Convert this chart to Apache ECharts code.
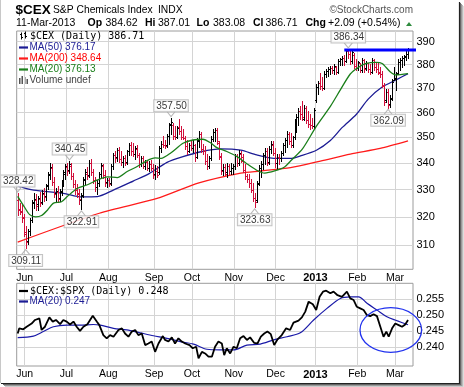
<!DOCTYPE html>
<html><head><meta charset="utf-8">
<script src="https://cdn.jsdelivr.net/npm/echarts@6/dist/echarts.min.js"></script>
<style>html,body{margin:0;padding:0;background:#fff}#c{width:464px;height:387px}</style>
</head><body><div id="c"></div>
<script>
// ---- tick labels ----
const monthGridIdx = [4,25,46,69,88,109,130,150,171,190];
const monthLabels = ['Jun','Jul','Aug','Sep','Oct','Nov','Dec','2013','Feb','Mar'];
const priceTicks = [310,320,330,340,350,360,370,380,390];
const ratioTicks = [0.240,0.245,0.250,0.255];

// ---- daily OHLC, 25-May-2012 .. 11-Mar-2013 ----
const opens = [326.0,322.8,322.0,319.8,314.0,311.5,315.0,319.0,325.5,326.0,324.5,326.5,325.5,328.5,327.5,331.8,335.5,338.0,333.0,328.8,
329.0,326.8,329.5,333.0,336.5,338.5,337.5,339.0,335.0,332.0,330.5,328.8,326.0,328.0,333.5,336.0,335.5,340.0,336.5,333.5,
331.0,332.5,336.0,339.0,335.5,332.8,333.5,332.5,339.0,343.0,342.2,345.0,341.5,340.5,342.0,340.5,344.5,347.0,344.5,343.5,
345.5,343.0,339.5,342.0,339.0,340.5,338.0,339.8,338.0,336.0,337.0,336.5,345.8,347.5,347.0,347.0,350.5,355.5,355.0,350.5,
350.2,354.0,352.5,350.0,349.8,346.5,344.8,347.0,346.0,347.0,342.5,349.0,351.5,345.5,344.5,341.0,339.0,342.0,349.5,352.0,
353.0,348.0,342.5,337.5,338.5,336.5,339.0,337.0,338.0,339.0,342.8,340.0,343.5,341.0,337.5,335.0,334.0,332.5,330.0,327.0,
326.0,332.5,338.0,339.5,343.0,344.5,340.5,345.5,347.0,344.0,340.0,342.5,342.0,344.0,347.0,349.0,351.5,348.5,347.0,350.0,
355.5,358.0,360.5,359.5,357.5,362.0,357.0,355.5,355.0,354.5,365.0,370.5,372.0,371.0,370.0,376.0,377.2,378.0,378.5,377.5,
379.0,377.0,381.5,382.3,383.0,381.5,385.8,384.5,381.5,384.0,379.5,378.5,380.5,377.5,382.0,378.5,380.5,378.0,377.0,382.0,
379.0,378.0,377.0,376.0,371.0,365.0,368.5,363.5,366.0,373.5,374.0,376.5,381.0,382.0,383.0,383.5,384.62];
const highs = [328.42,325.0,324.5,321.0,316.5,315.5,319.5,326.0,328.5,328.0,327.5,329.0,329.5,330.5,332.0,336.5,340.0,339.5,334.5,330.5,
331.0,330.0,333.5,337.0,339.5,340.0,340.45,339.8,336.0,333.5,332.0,330.0,328.5,334.5,337.4,338.5,341.2,341.5,337.5,334.5,
333.5,336.5,340.0,339.5,337.0,334.0,334.3,339.5,343.8,344.5,345.8,346.0,344.5,342.5,343.0,345.0,347.7,348.0,347.7,346.4,
346.8,343.8,342.5,342.5,341.0,341.2,340.5,341.0,339.5,339.0,338.7,346.4,348.3,350.4,349.0,351.0,355.6,357.5,355.6,354.3,
354.5,357.0,354.3,353.0,350.4,349.0,347.7,349.0,349.0,347.1,349.7,352.3,352.0,347.1,346.4,343.2,342.5,350.4,353.0,353.6,
353.5,348.4,343.8,339.5,339.3,340.0,339.3,340.0,339.5,343.2,343.5,344.9,344.5,343.2,339.3,335.6,335.6,333.6,332.4,328.6,
333.0,339.0,340.6,343.8,345.8,345.5,346.4,348.4,348.4,345.8,343.2,343.5,344.5,347.7,349.7,352.3,352.0,351.5,350.5,357.0,
359.0,361.7,362.3,364.3,363.0,362.3,360.5,359.0,357.5,361.7,371.4,372.8,376.3,374.5,377.0,377.7,378.6,379.3,379.3,379.9,
379.3,382.0,382.7,383.4,384.1,386.0,386.34,386.0,386.2,385.0,382.0,381.5,380.6,382.7,382.0,381.3,380.6,379.9,382.7,382.0,
380.6,380.6,378.6,377.0,372.1,369.3,369.3,367.0,373.5,378.6,376.5,382.0,382.7,383.4,383.8,385.7,387.01];
const lows = [320.8,321.2,318.5,313.5,309.11,310.5,313.8,318.5,323.5,322.5,322.8,324.0,324.8,326.0,326.5,330.5,334.0,332.0,327.5,326.0,
325.5,325.8,328.0,331.5,334.0,335.5,336.5,334.0,331.0,328.6,327.5,325.0,322.91,327.5,332.4,334.0,335.0,335.5,332.5,329.8,
328.6,331.5,334.5,334.5,331.5,331.0,331.5,332.0,338.0,340.6,341.0,340.5,339.5,338.7,339.5,340.0,343.5,343.5,343.0,341.9,
342.5,338.7,339.0,338.5,338.0,337.5,337.0,337.5,334.5,334.3,335.0,336.0,344.5,346.4,346.0,346.4,347.7,351.7,349.4,349.7,
350.0,351.7,349.4,349.5,345.8,343.8,344.5,345.1,344.5,341.2,342.0,346.4,344.5,343.8,340.0,338.1,338.5,341.5,349.0,349.0,
347.5,341.9,336.2,335.6,335.6,334.9,336.2,336.2,336.0,338.1,339.0,339.5,340.5,336.8,334.3,333.0,331.1,329.2,326.1,323.63,
325.5,332.0,335.0,338.1,340.0,339.3,340.0,344.0,343.2,338.7,338.1,340.0,341.2,343.5,344.5,346.4,347.5,346.5,346.5,349.5,
352.5,355.0,357.5,357.0,357.0,356.0,354.3,353.5,353.8,354.0,364.5,367.9,370.0,369.5,369.8,374.9,375.5,376.3,376.8,376.3,
376.3,376.5,379.9,380.0,379.9,381.5,383.0,380.6,381.0,378.6,377.7,377.7,377.0,377.2,377.0,377.7,377.0,376.3,376.8,378.0,
377.0,376.0,374.9,370.7,363.1,364.4,362.09,362.5,365.5,373.5,369.3,376.0,377.7,379.3,380.0,382.0,383.08];
const closes = [322.5,321.8,319.5,314.5,311.0,314.8,318.8,325.2,326.5,323.8,326.8,325.0,328.8,327.2,331.5,335.8,338.5,333.0,328.5,329.6,
326.5,329.2,332.8,336.0,338.8,337.0,339.6,335.0,332.0,330.0,328.5,326.5,327.8,333.8,336.5,335.0,340.2,336.5,333.5,330.8,
332.6,335.8,339.2,335.5,332.5,333.5,332.0,338.8,343.0,342.0,345.0,341.5,340.5,342.0,340.2,344.5,347.0,344.5,343.5,345.8,
343.0,339.5,342.0,339.0,340.5,338.0,339.8,338.2,335.5,337.0,335.6,345.8,347.5,347.0,346.6,350.5,355.0,356.2,350.5,350.0,
353.8,352.5,350.0,349.8,346.5,344.5,347.0,345.8,347.2,342.5,348.8,351.5,345.5,344.5,341.0,339.0,342.0,349.5,352.0,353.0,
348.5,342.8,337.0,338.5,336.0,339.0,337.0,338.0,338.8,342.8,340.0,344.0,342.5,337.5,335.0,334.0,332.5,330.0,327.0,325.5,
332.2,338.0,339.5,343.0,344.8,340.2,345.5,347.5,344.0,340.0,342.5,342.0,344.0,347.0,349.0,351.5,348.5,347.0,350.0,356.0,
358.0,360.8,359.5,358.0,362.0,356.8,355.5,355.0,354.5,361.2,370.5,372.0,371.0,370.0,376.0,377.2,378.0,378.5,377.5,379.2,
377.0,381.5,382.3,383.0,381.5,385.8,384.5,381.5,385.5,379.5,378.5,381.0,377.5,382.0,378.0,380.5,378.0,377.0,382.0,379.0,
378.2,376.5,376.0,371.5,364.5,368.5,363.0,365.5,372.5,374.5,376.0,381.0,382.0,383.0,383.3,384.62,386.71];

// ---- moving averages: [day index, value] ----
const ma200Pts = [[0,311.0],[41,321.3],[70,326.7],[91,332.5],[112,336.2],[122,337.0],[137,338.3],[152,340.8],[167,343.5],[182,345.7],[196,348.64]];
const ma50Pts = [[0,331.3],[8,329.8],[23,328.6],[32,327.3],[40,327.4],[48,329.8],[58,333.2],[66,336.0],[75,340.3],[83,342.5],[92,344.4],[102,345.5],[112,345.0],[120,343.2],[130,341.8],[137,341.8],[142,342.8],[150,345.0],[157,348.8],[163,354.0],[170,359.2],[176,365.5],[183,370.5],[190,373.5],[196,376.17]];
const ma20Pts = [[0,327.5],[3,324.0],[6,320.8],[9,320.0],[12,320.5],[15,322.5],[18,325.0],[22,325.5],[25,327.5],[30,330.5],[35,331.8],[40,333.6],[45,334.8],[50,334.5],[55,336.8],[60,338.7],[65,341.0],[69,342.0],[72,341.8],[77,344.0],[83,347.7],[88,349.0],[93,349.3],[97,347.8],[100,346.0],[105,344.5],[110,342.6],[115,339.8],[120,337.3],[124,336.2],[129,337.0],[134,338.5],[137,340.8],[143,345.5],[150,354.5],[157,362.5],[162,369.3],[167,376.0],[171,378.8],[175,380.5],[180,381.0],[183,380.5],[187,377.0],[190,375.6],[196,376.13]];
const resistPts = [[164,386.34],[207,386.34]];
const highMarks = [[0,328.42],[26,340.45],[77,357.50],[166,386.34]];
const lowMarks = [[4,309.11],[32,322.91],[119,323.63],[186,362.09]];

// ---- $CEX:$SPX ratio and its MA(20) ----
const ratioPts = [[0,0.2443],[0.8,0.2459],[2.8,0.2456],[4.5,0.2464],[7.0,0.2474],[8.7,0.2485],[10.9,0.2490],[12.0,0.2454],[13.7,0.2464],[15.9,0.2493],[17.6,0.2480],[19.2,0.2485],[21.3,0.2472],[22.9,0.2485],[24.6,0.2480],[26.3,0.2471],[28.0,0.2480],[29.6,0.2464],[31.3,0.2451],[33.0,0.2464],[35.0,0.2472],[37.7,0.2498],[39.7,0.2480],[41.0,0.2469],[43.0,0.2438],[44.7,0.2428],[46.4,0.2438],[48.1,0.2433],[50.6,0.2454],[52.3,0.2459],[53.9,0.2443],[55.6,0.2433],[57.3,0.2449],[59.0,0.2454],[60.6,0.2438],[62.3,0.2443],[64.0,0.2407],[65.6,0.2412],[67.3,0.2418],[69.0,0.2386],[70.7,0.2412],[72.9,0.2435],[74.0,0.2423],[75.7,0.2418],[77.4,0.2431],[79.0,0.2412],[80.7,0.2428],[82.4,0.2418],[84.1,0.2412],[86.3,0.2407],[87.9,0.2397],[89.6,0.2402],[90.8,0.2366],[92.5,0.2386],[94.1,0.2381],[95.8,0.2371],[97.5,0.2371],[99.1,0.2402],[100.8,0.2418],[102.5,0.2412],[103.7,0.2376],[105.0,0.2397],[106.7,0.2381],[108.4,0.2402],[110.0,0.2397],[111.7,0.2428],[113.4,0.2435],[115.1,0.2423],[116.7,0.2431],[118.7,0.2414],[120.4,0.2412],[122.1,0.2433],[123.8,0.2443],[125.4,0.2449],[127.1,0.2441],[128.8,0.2407],[130.5,0.2425],[132.6,0.2438],[134.8,0.2459],[136.8,0.2454],[138.5,0.2477],[141.0,0.2483],[142.7,0.2493],[144.4,0.2511],[146.1,0.2542],[148.2,0.2534],[149.9,0.2516],[151.6,0.2557],[153.3,0.2573],[154.9,0.2576],[157.0,0.2568],[158.6,0.2573],[160.6,0.2562],[162.8,0.2557],[165.3,0.2573],[167.0,0.2552],[168.7,0.2547],[170.3,0.2526],[172.0,0.2521],[173.7,0.2516],[175.4,0.2500],[177.0,0.2497],[178.7,0.2503],[180.4,0.2497],[182.1,0.2464],[183.7,0.2433],[185.1,0.2449],[186.3,0.2433],[188.0,0.2459],[189.6,0.2474],[191.3,0.2469],[193.0,0.2464],[194.6,0.2471],[196,0.2485]];
const ratioMAPts = [[0,0.2430],[7.9,0.2435],[12.9,0.2449],[17.9,0.2464],[24.6,0.2469],[31.3,0.2469],[38.0,0.2471],[41.4,0.2469],[48.1,0.2459],[54.8,0.2454],[61.5,0.2445],[68.2,0.2436],[74.9,0.2428],[81.6,0.2418],[88.3,0.2410],[95.0,0.2394],[101.7,0.2392],[108.4,0.2392],[115.1,0.2407],[121.8,0.2410],[128.5,0.2423],[135.2,0.2433],[141.9,0.2445],[148.6,0.2485],[155.3,0.2521],[162.0,0.2552],[167.0,0.2557],[171.2,0.2557],[175.4,0.2537],[180.4,0.2516],[185.4,0.2495],[190.4,0.2483],[196,0.2470]];

// ---------------------------------------------------------------
const UP = '#000000', DOWN = '#d10f3b';
const NAVY = '#1c1c94', RED = '#ff1a1a', GREEN = '#1a7f1a';
const FONT = '"Liberation Sans", Arial, sans-serif';
const MONO = '"DejaVu Sans Mono", "Liberation Mono", monospace';

const ohlcData = closes.map((c, i) => [i, opens[i], highs[i], lows[i], c,
  (i === 0 ? c >= opens[i] : c >= closes[i - 1]) ? 1 : 0]);

function renderOHLC(params, api) {
  const i = api.value(0);
  const pO = api.coord([i, api.value(1)]);
  const pH = api.coord([i, api.value(2)]);
  const pL = api.coord([i, api.value(3)]);
  const pC = api.coord([i, api.value(4)]);
  const color = api.value(5) ? UP : DOWN;
  const x = Math.round(pH[0]) + 0.5;
  const yo = Math.round(pO[1]) + 0.5, yc = Math.round(pC[1]) + 0.5;
  const st = { stroke: color, lineWidth: 1 };
  return { type: 'group', children: [
    { type: 'line', shape: { x1: x, y1: Math.floor(pH[1]), x2: x, y2: Math.ceil(pL[1]) + 1 }, style: st },
    { type: 'line', shape: { x1: x - 1.5, y1: yo, x2: x - 0.5, y2: yo }, style: st },
    { type: 'line', shape: { x1: x + 0.5, y1: yc, x2: x + 1.5, y2: yc }, style: st }
  ]};
}

const gridLine = { show: true, lineStyle: { color: '#d4d4d4', width: 1 } };
const monthCustom = monthGridIdx.map(i => i - 0.5);
function monthFmt(v) {
  const k = monthGridIdx.indexOf(Math.round(v + 0.5));
  const t = k >= 0 ? monthLabels[k] : '';
  return t === '2013' ? '{b|2013}' : t;
}
function xAxisCfg(gi) {
  return {
    type: 'value', gridIndex: gi, min: -0.5, max: 198.5,
    axisLine: { show: false },
    axisTick: { show: false, customValues: monthCustom },
    splitLine: gridLine,
    axisLabel: { customValues: monthCustom, formatter: monthFmt, color: '#000', fontSize: 10.5,
      fontFamily: FONT, margin: 3,
      rich: { b: { fontWeight: 'bold', fontSize: 11, fontFamily: FONT, color: '#000' } } }
  };
}

const labelStyle = { show: true, distance: 0, color: '#000', fontSize: 10, fontFamily: FONT,
  backgroundColor: '#fff', borderColor: '#b4b4b4', borderWidth: 1, padding: [1, 1, 0, 2], lineHeight: 10,
  formatter: p => p.value[1].toFixed(2) };

function txt(x, y, text, opt) {
  opt = opt || {};
  return { type: 'text', x: x, y: y, z: 50, silent: true,
    style: { text: text, fill: opt.fill || '#000', font: opt.font || ('10px ' + FONT),
      align: opt.align || 'left', verticalAlign: 'middle', rich: opt.rich } };
}
function dash(y, color) {
  return { type: 'line', z: 50, silent: true, shape: { x1: 19, y1: y, x2: 28, y2: y }, style: { stroke: color, lineWidth: 2.2 } };
}
function seg(x1, y1, x2, y2, color, w) {
  return { type: 'line', z: 60, silent: true, shape: { x1, y1, x2, y2 }, style: { stroke: color, lineWidth: w || 1 } };
}

const chart = echarts.init(document.getElementById('c'), null, { renderer: 'canvas', width: 464, height: 387 });
chart.setOption({
  animation: false,
  backgroundColor: '#fff',
  grid: [
    { left: 16.7, top: 31, width: 396.3, height: 238.3, show: true, borderColor: '#9c9c9c', borderWidth: 1, outerBoundsMode: 'none', containLabel: false },
    { left: 16.7, top: 283.3, width: 396.3, height: 82.7, show: true, borderColor: '#9c9c9c', borderWidth: 1, outerBoundsMode: 'none', containLabel: false }
  ],
  xAxis: [xAxisCfg(0), xAxisCfg(1)],
  yAxis: [
    { type: 'log', logBase: 10, gridIndex: 0, position: 'right', min: 301.6, max: 394.7,
      axisLine: { show: false }, axisTick: { show: false, customValues: priceTicks }, splitLine: gridLine,
      axisLabel: { customValues: priceTicks, color: '#000', fontSize: 11, fontFamily: FONT, margin: 3.5 } },
    { type: 'value', gridIndex: 1, position: 'right', min: 0.2342, max: 0.2599,
      axisLine: { show: false }, axisTick: { show: false, customValues: ratioTicks }, splitLine: gridLine,
      axisLabel: { customValues: ratioTicks, color: '#000', fontSize: 11, fontFamily: FONT, margin: 3.5,
        formatter: v => v.toFixed(3) } }
  ],
  series: [
    { type: 'line', xAxisIndex: 0, yAxisIndex: 0, data: ma200Pts, smooth: 0.25, symbol: 'none',
      lineStyle: { color: RED, width: 1.3 }, z: 3, silent: true },
    { type: 'line', xAxisIndex: 0, yAxisIndex: 0, data: ma50Pts, smooth: 0.25, symbol: 'none',
      lineStyle: { color: NAVY, width: 1.3 }, z: 3, silent: true },
    { type: 'custom', xAxisIndex: 0, yAxisIndex: 0, data: ohlcData, renderItem: renderOHLC,
      encode: { x: 0, y: [1, 2, 3, 4] }, z: 4, silent: true },
    { type: 'line', xAxisIndex: 0, yAxisIndex: 0, data: ma20Pts, smooth: 0.25, symbol: 'none',
      lineStyle: { color: GREEN, width: 1.3 }, z: 5, silent: true },
    { type: 'line', xAxisIndex: 0, yAxisIndex: 0, data: resistPts, symbol: 'none', clip: false,
      lineStyle: { color: '#0000ff', width: 3 }, z: 6, silent: true },
    { type: 'scatter', xAxisIndex: 0, yAxisIndex: 0, data: highMarks, symbol: 'path://M0,0L4,5L8,0',
      symbolSize: [8, 5], symbolOffset: [0, -4.5], clip: false,
      itemStyle: { color: 'rgba(0,0,0,0)', borderColor: '#a8a8a8', borderWidth: 1 },
      label: Object.assign({ position: 'top' }, labelStyle), z: 8, silent: true },
    { type: 'scatter', xAxisIndex: 0, yAxisIndex: 0, data: lowMarks, symbol: 'path://M0,5L4,0L8,5',
      symbolSize: [8, 5], symbolOffset: [0, 4.5], clip: false,
      itemStyle: { color: 'rgba(0,0,0,0)', borderColor: '#a8a8a8', borderWidth: 1 },
      label: Object.assign({ position: 'bottom' }, labelStyle), z: 8, silent: true },
    { type: 'line', xAxisIndex: 1, yAxisIndex: 1, data: ratioMAPts, smooth: 0.3, symbol: 'none',
      lineStyle: { color: '#1a1aa8', width: 1.2 }, z: 3, silent: true },
    { type: 'line', xAxisIndex: 1, yAxisIndex: 1, data: ratioPts, symbol: 'none',
      lineStyle: { color: '#000', width: 1.8 }, z: 4, silent: true }
  ],
  graphic: [
    // header
    txt(15.5, 10, '$CEX', { font: 'bold 13.5px ' + FONT }),
    txt(53, 10.5, 'S&P Chemicals Index', { font: '10.3px ' + FONT }),
    txt(158, 10.5, 'INDX', { font: '10.3px ' + FONT }),
    txt(413, 10.5, '\u00a9StockCharts.com', { font: '10px ' + FONT, fill: '#555', align: 'right' }),
    txt(16, 23.5, '11-Mar-2013', { font: '10.5px ' + FONT }),
    txt(87.5, 23.5, 'Op', { font: 'bold 10.5px ' + FONT }),
    txt(105.5, 23.5, '384.62', { font: '10.5px ' + FONT }),
    txt(145, 23.5, 'Hi', { font: 'bold 10.5px ' + FONT }),
    txt(158, 23.5, '387.01', { font: '10.5px ' + FONT }),
    txt(196.5, 23.5, 'Lo', { font: 'bold 10.5px ' + FONT }),
    txt(213, 23.5, '383.08', { font: '10.5px ' + FONT }),
    txt(253, 23.5, 'Cl', { font: 'bold 10.5px ' + FONT }),
    txt(265.5, 23.5, '386.71', { font: '10.5px ' + FONT }),
    txt(305.5, 23.5, 'Chg', { font: 'bold 10.5px ' + FONT }),
    txt(328, 23.5, '+2.09 (+0.54%)', { font: '10.5px ' + FONT }),
    { type: 'polygon', z: 50, silent: true, shape: { points: [[406, 26], [412, 26], [409, 22]] }, style: { fill: '#2e8b3e' } },
    // top legend
    seg(21.5, 32.5, 21.5, 39.5, '#000', 1), seg(20, 34.5, 21.5, 34.5, '#000', 1), seg(21.5, 37.5, 23, 37.5, '#000', 1),
    seg(25.5, 31.5, 25.5, 38.5, '#000', 1), seg(24, 33.5, 25.5, 33.5, '#000', 1), seg(25.5, 36.5, 27, 36.5, '#000', 1),
    txt(30, 36, '$CEX (Daily) 386.71', { font: '10px ' + MONO }),
    dash(47.5, NAVY), txt(29.5, 47.5, 'MA(50) 376.17', { fill: NAVY }),
    dash(58.5, RED), txt(29.5, 58.5, 'MA(200) 348.64', { fill: '#ff0000' }),
    dash(69.5, GREEN), txt(29.5, 69.5, 'MA(20) 376.13', { fill: GREEN }),
    { type: 'group', z: 50, silent: true, children: [
      { type: 'rect', shape: { x: 19, y: 78, width: 1.5, height: 6 }, style: { fill: '#555' } },
      { type: 'rect', shape: { x: 21.5, y: 76, width: 1.5, height: 8 }, style: { fill: '#555' } },
      { type: 'rect', shape: { x: 24, y: 77, width: 1.5, height: 7 }, style: { fill: '#555' } },
      { type: 'rect', shape: { x: 26.5, y: 79, width: 1.5, height: 5 }, style: { fill: '#555' } }
    ]},
    txt(29.5, 80, 'Volume undef', { fill: '#444' }),
    // bottom legend
    dash(291, '#000'), txt(30, 291, '$CEX:$SPX (Daily) 0.248', { font: '10px ' + MONO }),
    dash(301.5, NAVY), txt(29.5, 301.5, 'MA(20) 0.247', { fill: NAVY }),
    // annotation ellipse
    { type: 'ellipse', z: 70, silent: true, shape: { cx: 390.8, cy: 330, rx: 30.8, ry: 22.3 },
      style: { fill: 'none', stroke: '#2233ee', lineWidth: 1.3 } },
    // frame
    seg(0.5, 0, 0.5, 383, '#c8c8c8', 1),
    seg(459.5, 2, 459.5, 384, '#222', 1.2), seg(460.5, 3, 460.5, 385, '#666', 1),
    seg(461.5, 4, 461.5, 386, '#999', 1), seg(462.5, 5, 462.5, 387, '#bbb', 1), seg(463.5, 6, 463.5, 387, '#ddd', 1),
    seg(1, 383.5, 460, 383.5, '#222', 1.2), seg(3, 384.5, 461, 384.5, '#666', 1),
    seg(4, 385.5, 462, 385.5, '#999', 1), seg(5, 386.5, 463, 386.5, '#ccc', 1)
  ]
});
</script></body></html>
